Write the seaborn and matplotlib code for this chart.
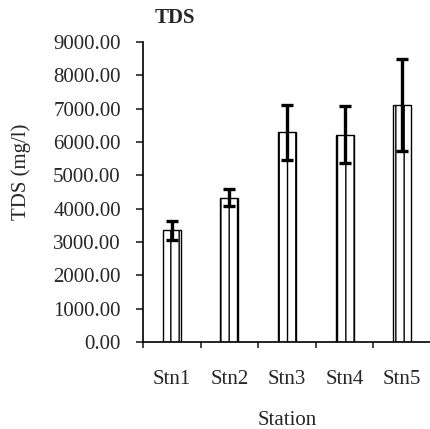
import numpy as np
import pandas as pd
import matplotlib
matplotlib.use("Agg")
import matplotlib.pyplot as plt
import seaborn as sns

stations = ["Stn1", "Stn2", "Stn3", "Stn4", "Stn5"]
tds_mean = [3350, 4330, 6290, 6220, 7110]
tds_err = [280, 260, 830, 850, 1380]
y_ticks = [0, 1000, 2000, 3000, 4000, 5000, 6000, 7000, 8000, 9000]

sns.set_style("ticks")
plt.rcParams["font.family"] = ["Liberation Serif", "DejaVu Serif"]
plt.rcParams["hatch.linewidth"] = 1.0

FS = 15

fig = plt.figure(figsize=(4.31, 4.29), dpi=100)
ax = fig.add_axes([143 / 431, 87 / 429, 288 / 431, 300 / 429])

df = pd.DataFrame({"Station": stations, "TDS": tds_mean})
sns.barplot(data=df, x="Station", y="TDS", color="white", edgecolor="black",
            linewidth=1.0, width=0.31, hatch="||", ax=ax, errorbar=None)

pos = np.arange(len(stations))
ax.errorbar(pos, tds_mean, yerr=tds_err, fmt="none", ecolor="black",
            elinewidth=2.4, capsize=4.5, capthick=2.4, zorder=5)

ax.set_ylim(0, 9000)
ax.set_xlim(-0.5, len(stations) - 0.5)
ax.set_yticks(y_ticks)
ax.set_yticklabels([f"{v:.2f}" for v in y_ticks], fontsize=FS)

ax.set_xticks(np.arange(len(stations) + 1) - 0.5)
ax.set_xticklabels([""] * (len(stations) + 1))
ax.set_xticks(pos, minor=True)
ax.set_xticklabels(stations, minor=True, fontsize=FS)
ax.tick_params(axis="x", which="minor", length=0, pad=20)
ax.tick_params(axis="x", which="major", length=4.5, width=1.2, direction="out")
ax.tick_params(axis="y", length=5, width=1.2, direction="out", pad=11)

for s in ["top", "right"]:
    ax.spines[s].set_visible(False)
for s in ["left", "bottom"]:
    ax.spines[s].set_linewidth(1.2)
    ax.spines[s].set_color("black")

ax.set_xlabel("Station", fontsize=FS)
ax.xaxis.set_label_coords(0.5, -0.23)
ax.set_ylabel("TDS (mg/l)", fontsize=FS)
ax.yaxis.set_label_coords(-0.39, 0.567)

fig.text(155 / 431, 1 - 18 / 429, "TDS", fontsize=FS, fontweight="bold",
         ha="left", va="center")

fig.savefig("out.png", dpi=100)
